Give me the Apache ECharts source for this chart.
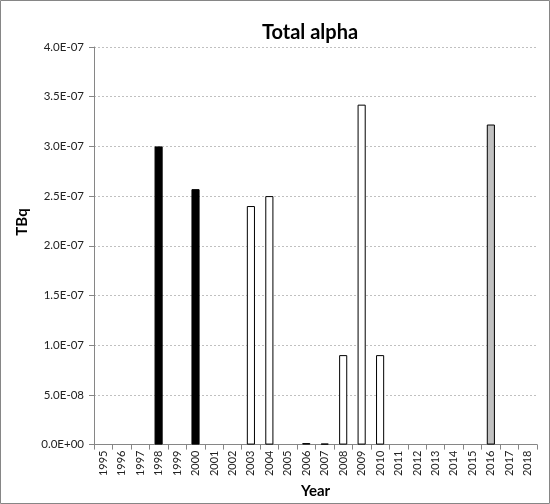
<!DOCTYPE html>
<html>

<head>
    <meta charset="utf-8">
    <title>Total alpha</title>
    <script src="https://cdn.jsdelivr.net/npm/echarts@6/dist/echarts.min.js"></script>
    <style>
        body { margin: 0; background: #fff; }
    </style>
</head>

<body>
    <div id="main" style="width: 550px;height: 504px;"></div>
    <script type="text/javascript">
    // data
    var years = ['1995', '1996', '1997', '1998', '1999', '2000', '2001', '2002', '2003', '2004', '2005', '2006',
        '2007', '2008', '2009', '2010', '2011', '2012', '2013', '2014', '2015', '2016', '2017', '2018'];
    var alpha = [null, null, null, 3.0e-7, null, 2.57e-7, null, null, 2.4e-7, 2.5e-7, null, 1.5e-9,
        1.0e-9, 0.9e-7, 3.42e-7, 0.9e-7, null, null, null, null, null, 3.22e-7, null, null];
    var yTicks = [0, 5e-8, 1e-7, 1.5e-7, 2e-7, 2.5e-7, 3e-7, 3.5e-7, 4e-7];

    // fill per year (style only)
    var fills = { '1998': '#000000', '2000': '#000000', '2016': '#c0c0c0' };

    function sci(v) {
        if (!v) return '0.0E+00';
        var s = v.toExponential(1).toUpperCase();
        var p = s.split('E');
        var e = parseInt(p[1], 10);
        var pad = Math.abs(e) < 10 ? '0' + Math.abs(e) : '' + Math.abs(e);
        return p[0] + 'E' + (e < 0 ? '-' : '+') + pad;
    }

    var font = 'Lato, "Open Sans", sans-serif';
    var myChart = echarts.init(document.getElementById('main'));

    var option = {
        backgroundColor: '#fff',
        animation: false,
        textStyle: { fontFamily: font },
        title: {
            text: 'Total alpha',
            left: 305,
            textAlign: 'center',
            top: 18,
            textStyle: { fontFamily: font, fontSize: 20, fontWeight: 'bold', color: '#000' }
        },
        graphic: [
            {
                type: 'rect',
                shape: { x: 0.5, y: 0.5, width: 549, height: 503 },
                style: { fill: null, stroke: '#868686', lineWidth: 1 },
                silent: true
            },
            {
                type: 'text',
                x: 22,
                y: 222,
                rotation: Math.PI / 2,
                style: {
                    text: 'TBq',
                    fontFamily: font,
                    fontSize: 15,
                    fontWeight: 'bold',
                    fill: '#000',
                    align: 'center',
                    verticalAlign: 'middle'
                }
            }
        ],
        grid: {
            left: 94,
            right: 13,
            top: 47,
            bottom: 58,
            containLabel: false
        },
        xAxis: {
            type: 'category',
            data: years,
            name: 'Year',
            nameLocation: 'middle',
            nameGap: 38,
            nameTextStyle: { fontFamily: font, fontSize: 15, fontWeight: 'bold', color: '#000' },
            axisLine: { lineStyle: { color: '#868686', width: 1 } },
            axisTick: { show: true, alignWithLabel: false, length: 5, lineStyle: { color: '#868686' } },
            axisLabel: {
                rotate: 90,
                interval: 0,
                margin: 6,
                fontFamily: font,
                fontSize: 11,
                color: '#222'
            },
            splitLine: { show: false }
        },
        yAxis: {
            type: 'value',
            min: 0,
            max: 4e-7,
            interval: 5e-8,
            axisLine: { show: true, lineStyle: { color: '#868686', width: 1 } },
            axisTick: { show: true, length: 5, lineStyle: { color: '#868686' } },
            axisLabel: {
                margin: 10,
                fontFamily: font,
                fontSize: 11.5,
                color: '#222',
                formatter: function (v) {
                    // snap to the nearest tick to hide float noise
                    var t = yTicks.reduce(function (a, b) { return Math.abs(b - v) < Math.abs(a - v) ? b : a; });
                    return sci(t);
                }
            },
            splitLine: { show: true, lineStyle: { color: '#c0c0c0', type: [2, 2], width: 1 } }
        },
        series: [
            {
                type: 'bar',
                barWidth: '44%',
                data: alpha.map(function (v, i) {
                    return {
                        value: v,
                        itemStyle: {
                            color: fills[years[i]] || '#ffffff',
                            borderColor: '#000',
                            borderWidth: 1
                        }
                    };
                })
            }
        ]
    };

    myChart.setOption(option);
    </script>
</body>

</html>
